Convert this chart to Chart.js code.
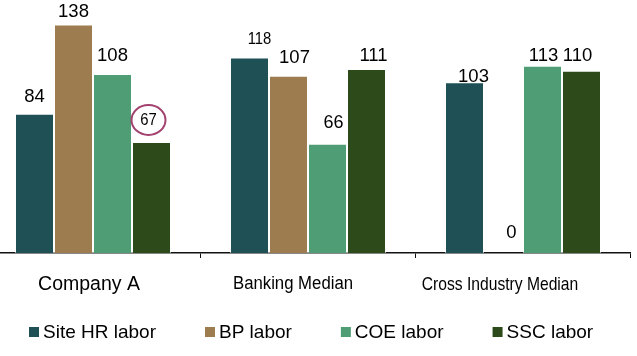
<!DOCTYPE html>
<html><head><meta charset="utf-8">
<script src="https://cdn.jsdelivr.net/npm/chart.js@4/dist/chart.umd.min.js"></script>
<style>
html,body{margin:0;padding:0;background:#fff;}
#wrap{position:relative;width:637px;height:356px;overflow:hidden;}
#c{position:absolute;left:-15px;top:0;}
</style></head><body>
<div id="wrap"><canvas id="c" width="652" height="356"></canvas></div>
<script>
const categories = ['Company A', 'Banking Median', 'Cross Industry Median'];
const seriesNames = ['Site HR labor', 'BP labor', 'COE labor', 'SSC labor'];
const siteHR = [84, 118, 103];
const bpLabor = [138, 107, 0];
const coeLabor = [108, 66, 113];
const sscLabor = [67, 111, 110];
const seriesValues = [siteHR, bpLabor, coeLabor, sscLabor];
const seriesColors = ['#1F5056', '#9D7D4F', '#4F9D75', '#2D4A1B'];

const FONT = '"Liberation Sans", Arial, sans-serif';

const overlay = {
  id: 'overlay',
  afterDatasetsDraw(chart, args, opts) {
    const ctx = chart.ctx;
    ctx.save();
    ctx.fillStyle = '#000';
    ctx.textAlign = 'center';
    ctx.textBaseline = 'middle';
    // value labels
    chart.data.datasets.forEach((ds, d) => {
      const meta = chart.getDatasetMeta(d);
      meta.data.forEach((bar, i) => {
        const nd = opts.valueNudges[d][i];
        const x = bar.x + nd[0];
        const y = bar.y - opts.valueGap + nd[1];
        const fs = opts.valueFonts[d][i];
        ctx.font = fs + 'px ' + FONT;
        ctx.fillStyle = '#000';
        ctx.save();
        ctx.translate(x, y);
        ctx.scale(fs < 17 ? 0.9 : 1, 1);
        ctx.fillText(String(ds.data[i]), 0, 0);
        ctx.restore();
        if (d === opts.highlight[0] && i === opts.highlight[1]) {
          ctx.beginPath();
          ctx.ellipse(x, y, 17, 15, 0, 0, Math.PI * 2);
          ctx.strokeStyle = '#A3416F';
          ctx.lineWidth = 2;
          ctx.stroke();
        }
      });
    });
    // category labels
    const xs = chart.scales.x;
    categories.forEach((c, i) => {
      ctx.font = opts.catFonts[i] + 'px ' + FONT;
      ctx.fillStyle = '#000';
      ctx.save();
      ctx.translate(xs.getPixelForValue(i) + opts.catNudges[i], chart.chartArea.bottom + opts.catGap);
      ctx.scale(opts.catStretch[i], 1);
      ctx.fillText(c, 0, 0);
      ctx.restore();
    });
    // legend
    ctx.font = opts.legendFont + 'px ' + FONT;
    ctx.textAlign = 'left';
    let lx = opts.legendStart;
    const ly = opts.legendY;
    chart.data.datasets.forEach((ds) => {
      ctx.fillStyle = ds.backgroundColor;
      ctx.fillRect(lx, ly - 5, 10, 10);
      ctx.fillStyle = '#000';
      ctx.fillText(ds.label, lx + 14, ly + 1);
      lx += 14 + ctx.measureText(ds.label).width + opts.legendGap;
    });
    ctx.restore();
  }
};

new Chart(document.getElementById('c'), {
  type: 'bar',
  data: {
    labels: categories,
    datasets: seriesNames.map((n, k) => ({
      label: n,
      data: seriesValues[k],
      backgroundColor: seriesColors[k],
      borderColor: 'rgba(255,255,255,0.6)',
      borderWidth: 1,
      categoryPercentage: 0.7256,
      barPercentage: 1
    }))
  },
  options: {
    responsive: false,
    animation: false,
    devicePixelRatio: 1,
    layout: { padding: { top: 4.5, bottom: 98, left: 0.5, right: 6.5 } },
    plugins: {
      legend: { display: false },
      tooltip: { enabled: false },
      overlay: {
        valueFonts: [
          [18.5, 16.5, 18.5],
          [18.5, 18.5, 18.5],
          [18.5, 18, 18.5],
          [16.5, 18.5, 18.5]
        ],
        valueGap: 17,
        valueNudges: [
          [[0, 0], [10, -1], [9, 12]],
          [[0, 5], [6, -1], [8, -3]],
          [[0, -1], [6, -4], [1, 7]],
          [[-3, -5], [7, 4], [-4, 2]]
        ],
        highlight: [3, 0],
        catFonts: [19.5, 18, 18.5],
        catStretch: [1, 0.93, 0.845],
        catNudges: [-4, -15, -23],
        catGap: 31.5,
        legendFont: 19,
        legendStart: 44,
        legendY: 332,
        legendGap: 49
      }
    },
    scales: {
      x: {
        offset: true,
        grid: { drawOnChartArea: false, drawTicks: true, tickLength: 5, color: '#111', offset: true },
        border: { display: true, color: '#111', width: 1.5 },
        ticks: { display: false }
      },
      y: { display: false, min: 0, max: 150 }
    }
  },
  plugins: [overlay]
});
</script>
</body></html>
